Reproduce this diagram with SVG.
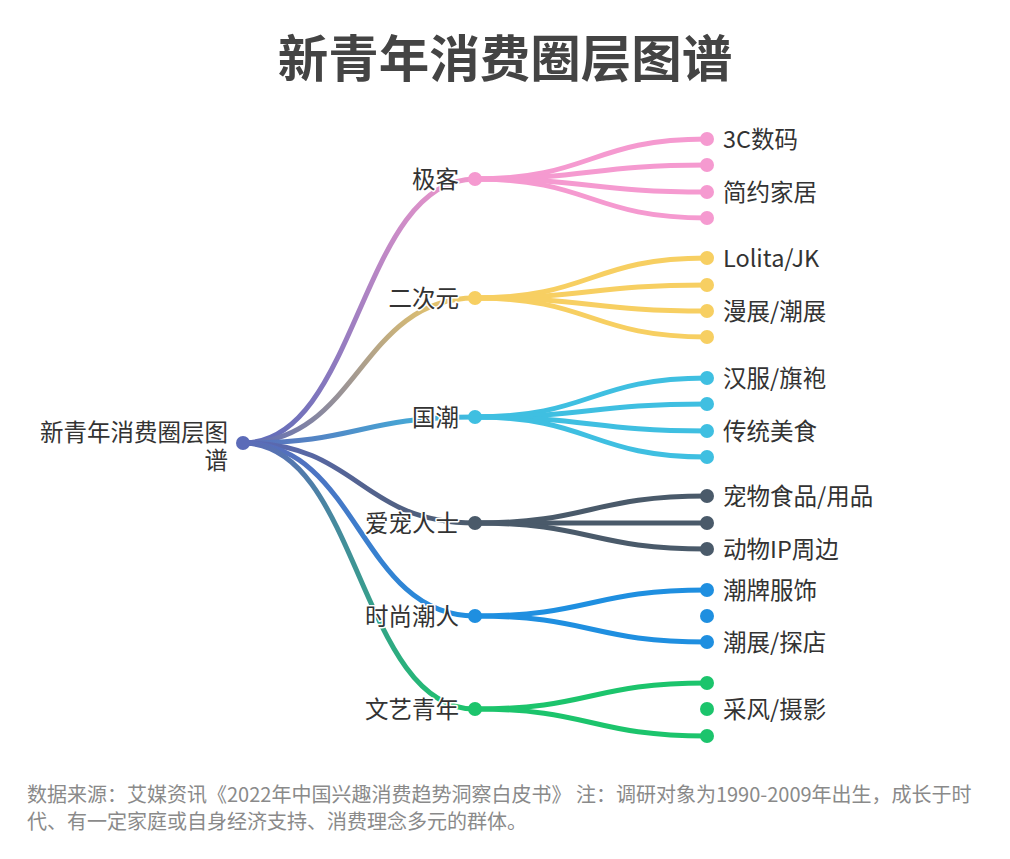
<svg xmlns="http://www.w3.org/2000/svg" width="1010" height="859" viewBox="0 0 1010 859">
<style>
.t{font-family:"Noto Sans CJK SC","Noto Sans",sans-serif;fill:#333;font-size:23.5px}
.h{stroke:#fff;stroke-width:3px;paint-order:stroke;stroke-linejoin:round}
.e{fill:none;stroke-width:5;stroke-linecap:round}
.title{font-family:"Noto Sans CJK SC","Noto Sans",sans-serif;font-weight:bold;font-size:50.5px;fill:#444}
.note{font-family:"Noto Sans CJK SC","Noto Sans",sans-serif;font-size:20px;fill:#8a8a8a}
</style>
<defs>
<linearGradient id="g1" gradientUnits="userSpaceOnUse" x1="243" y1="443" x2="475" y2="179"><stop offset="0" stop-color="#5c6bb8"/><stop offset="1" stop-color="#f097cc"/></linearGradient>
<linearGradient id="g2" gradientUnits="userSpaceOnUse" x1="243" y1="443" x2="475" y2="298"><stop offset="0" stop-color="#5c6bb8"/><stop offset="1" stop-color="#f6cf63"/></linearGradient>
<linearGradient id="g3" gradientUnits="userSpaceOnUse" x1="243" y1="443" x2="475" y2="417"><stop offset="0" stop-color="#5c6bb8"/><stop offset="1" stop-color="#3ebde0"/></linearGradient>
<linearGradient id="g4" gradientUnits="userSpaceOnUse" x1="243" y1="443" x2="475" y2="523"><stop offset="0" stop-color="#5c6bb8"/><stop offset="1" stop-color="#4b5b6b"/></linearGradient>
<linearGradient id="g5" gradientUnits="userSpaceOnUse" x1="243" y1="443" x2="475" y2="616"><stop offset="0" stop-color="#5c6bb8"/><stop offset="1" stop-color="#1f8fe0"/></linearGradient>
<linearGradient id="g6" gradientUnits="userSpaceOnUse" x1="243" y1="443" x2="475" y2="709"><stop offset="0" stop-color="#5c6bb8"/><stop offset="1" stop-color="#1cc46c"/></linearGradient>
</defs>
<rect width="1010" height="859" fill="#fff"/>
<text class="title" x="505" y="77" text-anchor="middle">新青年消费圈层图谱</text>
<g id="connectors">
<path class="e" stroke="url(#g1)" d="M243,443 C359,443 359,179 475,179"/>
<path class="e" stroke="url(#g2)" d="M243,443 C359,443 359,298 475,298"/>
<path class="e" stroke="url(#g3)" d="M243,443 C359,443 359,417 475,417"/>
<path class="e" stroke="url(#g4)" d="M243,443 C359,443 359,523 475,523"/>
<path class="e" stroke="url(#g5)" d="M243,443 C359,443 359,616 475,616"/>
<path class="e" stroke="url(#g6)" d="M243,443 C359,443 359,709 475,709"/>
<g stroke="#f59ad0">
<path class="e" d="M475,179 C591,179 591,139 707,139"/>
<path class="e" d="M475,179 C591,179 591,165 707,165"/>
<path class="e" d="M475,179 C591,179 591,192 707,192"/>
<path class="e" d="M475,179 C591,179 591,218 707,218"/>
</g>
<g stroke="#f7cf62">
<path class="e" d="M475,298 C591,298 591,258 707,258"/>
<path class="e" d="M475,298 C591,298 591,285 707,285"/>
<path class="e" d="M475,298 C591,298 591,311 707,311"/>
<path class="e" d="M475,298 C591,298 591,337 707,337"/>
</g>
<g stroke="#3fbfe1">
<path class="e" d="M475,417 C591,417 591,378 707,378"/>
<path class="e" d="M475,417 C591,417 591,404 707,404"/>
<path class="e" d="M475,417 C591,417 591,431 707,431"/>
<path class="e" d="M475,417 C591,417 591,457 707,457"/>
</g>
<g stroke="#4a5a6a">
<path class="e" d="M475,523 C591,523 591,496 707,496"/>
<path class="e" d="M475,523 C591,523 591,523 707,523"/>
<path class="e" d="M475,523 C591,523 591,549 707,549"/>
</g>
<g stroke="#1f8fe0">
<path class="e" d="M475,616 C591,616 591,590 707,590"/>
<path class="e" d="M475,616 C591,616 591,642 707,642"/>
</g>
<g stroke="#1cc46c">
<path class="e" d="M475,709 C591,709 591,683 707,683"/>
<path class="e" d="M475,709 C591,709 591,736 707,736"/>
</g>
</g>
<g id="root"><circle cx="243" cy="443" r="7" fill="#5c6bb8"/><text class="t h" text-anchor="end"><tspan x="228" y="441">新青年消费圈层图</tspan><tspan x="228" y="469">谱</tspan></text></g>
<g id="n-jike"><circle cx="475" cy="179" r="7" fill="#f59ad0"/><text class="t h" x="459" y="187.5" text-anchor="end">极客</text></g>
<g id="n-ecy"><circle cx="475" cy="298" r="7" fill="#f7cf62"/><text class="t h" x="459" y="306.5" text-anchor="end">二次元</text></g>
<g id="n-gc"><circle cx="475" cy="417" r="7" fill="#3fbfe1"/><text class="t h" x="459" y="425.5" text-anchor="end">国潮</text></g>
<g id="n-ac"><circle cx="475" cy="523" r="7" fill="#4a5a6a"/><text class="t h" x="459" y="531.5" text-anchor="end">爱宠人士</text></g>
<g id="n-ss"><circle cx="475" cy="616" r="7" fill="#1f8fe0"/><text class="t h" x="459" y="624.5" text-anchor="end">时尚潮人</text></g>
<g id="n-wy"><circle cx="475" cy="709" r="7" fill="#1cc46c"/><text class="t h" x="459" y="717.5" text-anchor="end">文艺青年</text></g>
<g id="l-3c"><circle cx="707" cy="139" r="7" fill="#f59ad0"/><text class="t" x="723" y="147.5">3C数码</text></g>
<g id="l-jk2"><circle cx="707" cy="165" r="7" fill="#f59ad0"/></g>
<g id="l-jyjj"><circle cx="707" cy="192" r="7" fill="#f59ad0"/><text class="t" x="723" y="200.5">简约家居</text></g>
<g id="l-jk4"><circle cx="707" cy="218" r="7" fill="#f59ad0"/></g>
<g id="l-lolita"><circle cx="707" cy="258" r="7" fill="#f7cf62"/><text class="t" x="723" y="266.5">Lolita/JK</text></g>
<g id="l-e2"><circle cx="707" cy="285" r="7" fill="#f7cf62"/></g>
<g id="l-mz"><circle cx="707" cy="311" r="7" fill="#f7cf62"/><text class="t" x="723" y="319.5">漫展/潮展</text></g>
<g id="l-e4"><circle cx="707" cy="337" r="7" fill="#f7cf62"/></g>
<g id="l-hf"><circle cx="707" cy="378" r="7" fill="#3fbfe1"/><text class="t" x="723" y="386.5">汉服/旗袍</text></g>
<g id="l-g2"><circle cx="707" cy="404" r="7" fill="#3fbfe1"/></g>
<g id="l-ctms"><circle cx="707" cy="431" r="7" fill="#3fbfe1"/><text class="t" x="723" y="439.5">传统美食</text></g>
<g id="l-g4"><circle cx="707" cy="457" r="7" fill="#3fbfe1"/></g>
<g id="l-cw"><circle cx="707" cy="496" r="7" fill="#4a5a6a"/><text class="t" x="723" y="504.5">宠物食品/用品</text></g>
<g id="l-a2"><circle cx="707" cy="523" r="7" fill="#4a5a6a"/></g>
<g id="l-dw"><circle cx="707" cy="549" r="7" fill="#4a5a6a"/><text class="t" x="723" y="557.5">动物IP周边</text></g>
<g id="l-cp"><circle cx="707" cy="590" r="7" fill="#1f8fe0"/><text class="t" x="723" y="598.5">潮牌服饰</text></g>
<g id="l-s2"><circle cx="707" cy="616" r="7" fill="#1f8fe0"/></g>
<g id="l-tz"><circle cx="707" cy="642" r="7" fill="#1f8fe0"/><text class="t" x="723" y="650.5">潮展/探店</text></g>
<g id="l-w1"><circle cx="707" cy="683" r="7" fill="#1cc46c"/></g>
<g id="l-cf"><circle cx="707" cy="709" r="7" fill="#1cc46c"/><text class="t" x="723" y="717.5">采风/摄影</text></g>
<g id="l-w3"><circle cx="707" cy="736" r="7" fill="#1cc46c"/></g>
<text class="note" x="27" y="802" xml:space="preserve">数据来源：艾媒资讯《2022年中国兴趣消费趋势洞察白皮书》 注：调研对象为1990-2009年出生，成长于时</text>
<text class="note" x="27" y="829">代、有一定家庭或自身经济支持、消费理念多元的群体。</text>
</svg>
